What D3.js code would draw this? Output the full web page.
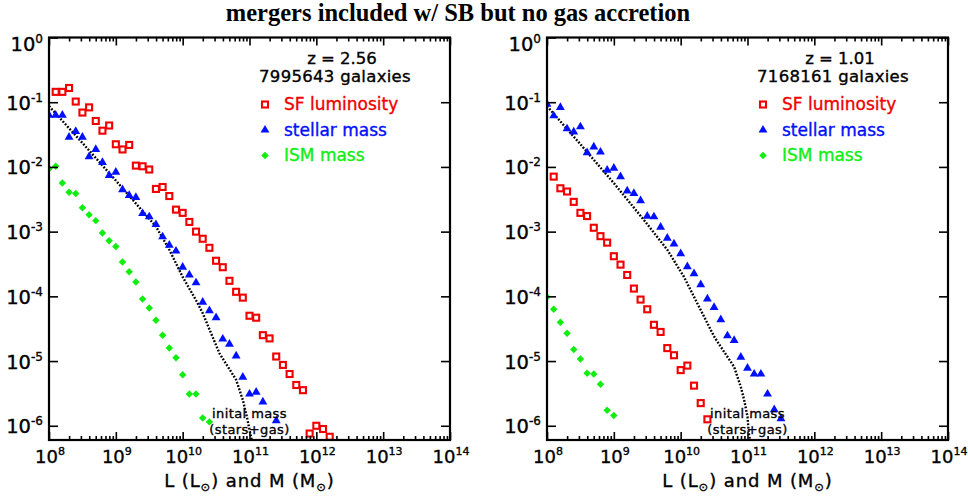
<!DOCTYPE html>
<html>
<head>
<meta charset="utf-8">
<script src="https://cdn.jsdelivr.net/npm/d3@7"></script>
<style>
  body { margin: 0; background: #fff; }
  svg { display: block; }
</style>
</head>
<body>
<div id="chart"></div>
<script>
// values are log10 of L or M (x) and log10 of the fraction (y)
const titleText = 'mergers included w/ SB but no gas accretion';
const xTickExps = [8, 9, 10, 11, 12, 13, 14];
const yTickExps = [0, -1, -2, -3, -4, -5, -6];
const legendNames = ['SF luminosity', 'stellar mass', 'ISM mass'];

// left panel, z = 2.56
const leftRedshift = '2.56';
const leftGalaxies = '7995643';
const leftSfX = [8.1, 8.2, 8.3, 8.4, 8.5, 8.6, 8.7, 8.8, 8.9, 9.0, 9.1, 9.2, 9.3, 9.4, 9.5, 9.6, 9.7, 9.8, 9.9, 10.0,
  10.1, 10.2, 10.3, 10.4, 10.5, 10.6, 10.7, 10.8, 10.9, 11.0, 11.1, 11.2, 11.3, 11.4, 11.5, 11.6, 11.7, 11.8, 11.9, 12.0, 12.1, 12.2];
const leftSfY = [-0.84, -0.84, -0.78, -0.99, -1.16, -1.08, -1.29, -1.44, -1.36, -1.65, -1.73, -1.66, -1.98, -1.99, -2.04, -2.34, -2.31, -2.45, -2.66, -2.71,
  -2.85, -3.00, -3.11, -3.25, -3.45, -3.55, -3.76, -3.93, -4.02, -4.30, -4.33, -4.60, -4.65, -4.93, -5.06, -5.20, -5.37, -5.45, -6.12, -6.00, -6.05, -6.17];
const leftStarX = [8.0, 8.1, 8.2, 8.3, 8.4, 8.5, 8.6, 8.7, 8.8, 8.9, 9.0, 9.1, 9.2, 9.3, 9.4, 9.5, 9.6, 9.7, 9.8, 9.9, 10.0,
  10.1, 10.2, 10.3, 10.4, 10.5, 10.6, 10.7, 10.8, 10.9, 11.0, 11.1, 11.2, 11.4];
const leftStarY = [-1.20, -1.20, -1.20, -1.54, -1.45, -1.54, -1.84, -1.73, -1.93, -2.13, -2.08, -2.35, -2.44, -2.47, -2.72, -2.77, -2.89, -3.08, -3.21, -3.30, -3.55,
  -3.67, -3.79, -4.09, -4.22, -4.33, -4.66, -4.74, -4.92, -5.25, -5.51, -5.48, -5.63, -5.92];
const leftIsmX = [8.0, 8.1, 8.2, 8.3, 8.4, 8.5, 8.6, 8.7, 8.8, 8.9, 9.0, 9.1, 9.2, 9.3, 9.4, 9.5, 9.6, 9.7, 9.8, 9.9, 10.0, 10.1, 10.2, 10.3, 10.4];
const leftIsmY = [-2.03, -1.99, -2.25, -2.39, -2.41, -2.63, -2.74, -2.83, -3.02, -3.14, -3.23, -3.47, -3.62, -3.78, -4.04, -4.18, -4.37, -4.60, -4.80, -4.95, -5.21, -5.51, -5.51, -5.88, -5.94];
const leftInitX = [8.0, 8.5, 9.0, 9.6, 9.8, 10.0, 10.2, 10.3, 10.55, 10.8, 10.9, 10.96, 11.01, 11.05];
const leftInitY = [-1.06, -1.63, -2.21, -2.92, -3.28, -3.70, -4.06, -4.26, -4.88, -5.29, -5.60, -5.86, -6.11, -6.30];

// right panel, z = 1.01
const rightRedshift = '1.01';
const rightGalaxies = '7168161';
const rightSfX = [8.1, 8.2, 8.3, 8.4, 8.5, 8.6, 8.7, 8.8, 8.9, 9.0, 9.1, 9.2, 9.3, 9.4, 9.5, 9.6, 9.7, 9.8, 9.9, 10.0, 10.1, 10.2, 10.3, 10.4];
const rightSfY = [-2.15, -2.33, -2.38, -2.54, -2.71, -2.76, -2.94, -3.07, -3.17, -3.38, -3.51, -3.67, -3.88, -4.05, -4.20, -4.44, -4.55, -4.80, -4.91, -5.14, -5.07, -5.38, -5.65, -5.90];
const rightStarX = [8.0, 8.1, 8.2, 8.3, 8.4, 8.5, 8.6, 8.7, 8.8, 8.9, 9.0, 9.1, 9.2, 9.3, 9.4, 9.5, 9.6, 9.7, 9.8, 9.9, 10.0,
  10.1, 10.2, 10.3, 10.4, 10.5, 10.6, 10.7, 10.8, 10.9, 11.0, 11.1, 11.2, 11.3, 11.4, 11.5];
const rightStarY = [-1.03, -1.21, -1.08, -1.41, -1.46, -1.38, -1.78, -1.69, -1.77, -2.05, -2.02, -2.15, -2.37, -2.41, -2.52, -2.76, -2.77, -2.93, -3.10, -3.19, -3.34,
  -3.54, -3.65, -3.82, -4.04, -4.17, -4.36, -4.61, -4.68, -4.94, -5.11, -5.20, -5.20, -5.51, -5.75, -5.89];
const rightIsmX = [8.0, 8.1, 8.2, 8.3, 8.4, 8.5, 8.6, 8.7, 8.8, 8.9, 9.0];
const rightIsmY = [-4.01, -4.20, -4.40, -4.57, -4.82, -4.97, -5.19, -5.20, -5.36, -5.76, -5.84];
const rightInitX = [8.0, 8.5, 9.0, 9.45, 9.8, 10.05, 10.25, 10.5, 10.6, 10.8, 10.9, 10.95, 11.0, 11.02, 11.05];
const rightInitY = [-1.06, -1.65, -2.25, -2.82, -3.28, -3.70, -4.11, -4.62, -4.78, -5.09, -5.40, -5.60, -5.86, -6.12, -6.30];

let cfg = {
  width: 968,
  height: 499,
  top: 37.5,
  plotW: 401,
  plotH: 402.5,
  yMinExp: -6.22,
  red: '#f00000',
  blue: '#0010ff',
  green: '#10ee10',
  font: '"DejaVu Sans", Verdana, sans-serif'
};

let panels = [
  { left: 49, z: leftRedshift, n: leftGalaxies,
    sf: d3.zip(leftSfX, leftSfY), star: d3.zip(leftStarX, leftStarY), ism: d3.zip(leftIsmX, leftIsmY), init: d3.zip(leftInitX, leftInitY) },
  { left: 547, z: rightRedshift, n: rightGalaxies,
    sf: d3.zip(rightSfX, rightSfY), star: d3.zip(rightStarX, rightStarY), ism: d3.zip(rightIsmX, rightIsmY), init: d3.zip(rightInitX, rightInitY) }
];

let svg = d3.select('#chart').append('svg')
  .attr('width', cfg.width)
  .attr('height', cfg.height);

svg.append('text')
  .attr('x', 458).attr('y', 21)
  .attr('text-anchor', 'middle')
  .attr('font-family', '"Liberation Serif", "Times New Roman", serif')
  .attr('font-weight', 'bold')
  .attr('font-size', 24.5)
  .text(titleText);

let marks = {
  sf: (sel, color) => sel.append('rect').attr('x', -3).attr('y', -3).attr('width', 6).attr('height', 6)
    .attr('fill', 'none').attr('stroke', color).attr('stroke-width', 2.1),
  star: (sel, color) => sel.append('path').attr('d', d3.symbol(d3.symbolTriangle, 34)()).attr('fill', color),
  ism: (sel, color) => sel.append('path').attr('d', d3.symbol(d3.symbolSquare, 28)()).attr('transform', 'rotate(45)').attr('fill', color)
};

// heavier strokes on text, the original font is a thick one
let inked = (sel, color) => sel.attr('fill', color).attr('stroke', color).attr('stroke-width', 0.35);

panels.forEach((p, i) => drawPanel(p, i));

function drawPanel (p, i) {
  let x = d3.scaleLog().domain([1e8, 1e14]).range([p.left, p.left + cfg.plotW]);
  let y = d3.scaleLog().domain([Math.pow(10, cfg.yMinExp), 1]).range([cfg.top + cfg.plotH, cfg.top]);
  let px = d => x(Math.pow(10, d[0]));
  let py = d => y(Math.pow(10, d[1]));
  let bottom = cfg.top + cfg.plotH;
  let right = p.left + cfg.plotW;

  let clipId = 'clip' + i;
  svg.append('clipPath').attr('id', clipId).append('rect')
    .attr('x', p.left).attr('y', cfg.top).attr('width', cfg.plotW).attr('height', cfg.plotH);
  let plot = svg.append('g').attr('clip-path', `url(#${clipId})`);

  let line = d3.line().x(px).y(py);
  plot.append('path')
    .attr('d', line(p.init))
    .attr('fill', 'none').attr('stroke', '#000')
    .attr('stroke-width', 2.4).attr('stroke-dasharray', '1.8,1.6');

  [['sf', cfg.red], ['star', cfg.blue], ['ism', cfg.green]].forEach(([key, color]) => {
    plot.selectAll('.' + key).data(p[key]).enter()
      .append('g').attr('class', key)
      .attr('transform', d => `translate(${px(d)},${py(d)})`)
      .each(function () { marks[key](d3.select(this), color); });
  });

  // ticks on all four sides
  let majors = xTickExps.map(e => Math.pow(10, e));
  let minors = [];
  xTickExps.slice(0, -1).forEach(e => {
    for (let k = 2; k < 10; k++) minors.push(k * Math.pow(10, e));
  });
  let yMajors = yTickExps.map(e => Math.pow(10, e));
  let axes = svg.append('g').attr('class', 'axes');
  let addAxis = (axis, tx, ty) => {
    let g = axes.append('g').attr('transform', `translate(${tx},${ty})`).call(axis);
    g.select('.domain').remove();
    g.selectAll('line').attr('stroke', '#000').attr('stroke-width', 1.6);
    g.selectAll('text').remove();
  };
  addAxis(d3.axisBottom(x).tickValues(majors).tickSize(-8), 0, bottom);
  addAxis(d3.axisBottom(x).tickValues(minors).tickSize(-4), 0, bottom);
  addAxis(d3.axisTop(x).tickValues(majors).tickSize(-8), 0, cfg.top);
  addAxis(d3.axisTop(x).tickValues(minors).tickSize(-4), 0, cfg.top);
  addAxis(d3.axisLeft(y).tickValues(yMajors).tickSize(-9), p.left, 0);
  addAxis(d3.axisRight(y).tickValues(yMajors).tickSize(-9), right, 0);

  svg.append('rect')
    .attr('x', p.left).attr('y', cfg.top).attr('width', cfg.plotW).attr('height', cfg.plotH)
    .attr('fill', 'none').attr('stroke', '#000').attr('stroke-width', 2.2);

  // tick labels
  xTickExps.forEach(e => {
    let t = svg.append('text')
      .attr('x', x(Math.pow(10, e)) + 1).attr('y', 463)
      .attr('text-anchor', 'middle')
      .attr('font-family', cfg.font).attr('font-size', 18)
      .call(inked, '#000');
    t.append('tspan').text('10');
    t.append('tspan').attr('font-size', 11).attr('dy', -8).text(e);
  });
  yTickExps.forEach(e => {
    let yy = y(Math.pow(10, e));
    let t = svg.append('text')
      .attr('x', p.left - 6).attr('y', Math.max(yy + 7.5, cfg.top + 13))
      .attr('text-anchor', 'end')
      .attr('font-family', cfg.font).attr('font-size', 19.5)
      .call(inked, '#000');
    t.append('tspan').text('10');
    t.append('tspan').attr('font-size', 12).attr('dy', -8).text(e === 0 ? '0' : '-' + (-e));
  });

  let xt = svg.append('text')
    .attr('x', (p.left + right) / 2).attr('y', 487)
    .attr('text-anchor', 'middle')
    .attr('font-family', cfg.font).attr('font-size', 18)
    .attr('letter-spacing', 0.9)
    .call(inked, '#000');
  xt.append('tspan').text('L (L');
  xt.append('tspan').attr('font-size', 11.5).attr('dy', 4).text('\u2299');
  xt.append('tspan').attr('dy', -4).text(') and M (M');
  xt.append('tspan').attr('font-size', 11.5).attr('dy', 4).text('\u2299');
  xt.append('tspan').attr('dy', -4).text(')');

  // header and legend
  svg.append('text')
    .attr('x', p.left + 293).attr('y', 63.5)
    .attr('text-anchor', 'middle')
    .attr('font-family', cfg.font).attr('font-size', 16.5)
    .call(inked, '#000')
    .text('z = ' + p.z);
  svg.append('text')
    .attr('x', p.left + 286).attr('y', 82)
    .attr('text-anchor', 'middle')
    .attr('font-family', cfg.font).attr('font-size', 16.5)
    .attr('letter-spacing', 0.3)
    .call(inked, '#000')
    .text(p.n + ' galaxies');
  let legend = svg.append('g');
  [['sf', cfg.red], ['star', cfg.blue], ['ism', cfg.green]].forEach(([key, color], k) => {
    let ly = 104.5 + k * 25.5;
    let g = legend.append('g').attr('transform', `translate(${p.left + 216},${ly})`);
    marks[key](g, color);
    legend.append('text')
      .attr('x', p.left + 235).attr('y', ly + 5.5)
      .attr('font-family', cfg.font).attr('font-size', 17)
      .call(inked, color)
      .text(legendNames[k]);
  });

  // label for the dotted curve
  [['inital mass', 418], ['(stars+gas)', 433.5]].forEach(([s, ty]) => {
    svg.append('text')
      .attr('x', x(1e11)).attr('y', ty)
      .attr('text-anchor', 'middle')
      .attr('font-family', cfg.font).attr('font-size', 13)
      .attr('letter-spacing', 0.4)
      .call(inked, '#000')
      .text(s);
  });
}
</script>
</body>
</html>
